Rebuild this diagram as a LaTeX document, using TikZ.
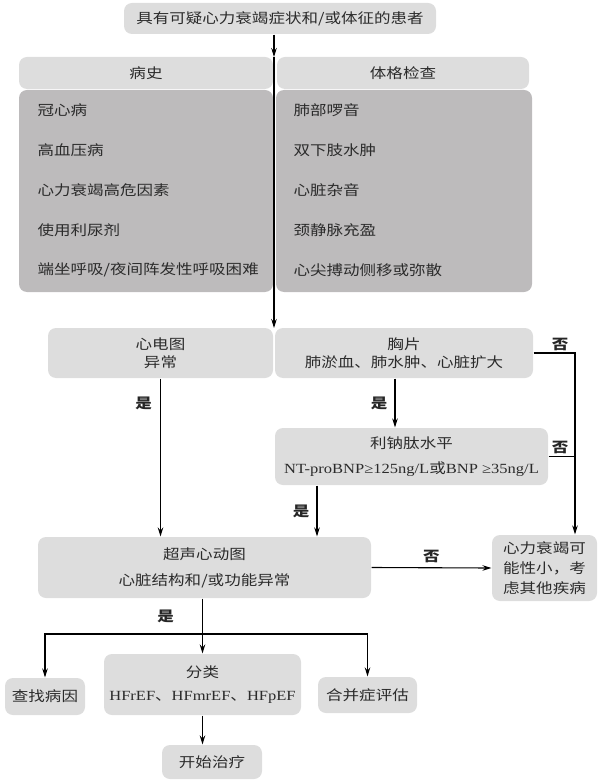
\documentclass[tikz,border=0pt]{standalone}
\usepackage{fontspec}
\setmainfont{Noto Sans CJK SC}[FakeStretch=1.18]
\newfontfamily\latfont{Liberation Serif}[FakeStretch=1.18]
\newcommand{\lat}[1]{{\latfont #1}}
\usetikzlibrary{arrows.meta}
\definecolor{boxlight}{HTML}{DDDDDD}
\definecolor{boxdark}{HTML}{BDBBBC}
\definecolor{textgray}{HTML}{2B2B2B}

\begin{document}
\begin{tikzpicture}[x=1pt, y=-1pt, line width=1.1pt,
    >={Stealth[length=9pt,width=5.5pt]},
    every node/.style={font=\fontsize{14pt}{18pt}\selectfont, text=textgray},
    lightbox/.style={rounded corners=8pt, fill=boxlight, align=center, inner sep=0pt},
    darkbox/.style={rounded corners=8pt, fill=boxdark, inner sep=0pt},
    item/.style={anchor=west, inner sep=0pt},
    lab/.style={font=\fontsize{14pt}{18pt}\selectfont\bfseries, text=black!85, inner sep=2pt}]
    \useasboundingbox (0,0) rectangle (601,783);

    % Patient and history / examination
    \node[lightbox, minimum width=312pt, minimum height=31pt] (patient) at (280,18.5) {具有可疑心力衰竭症状和/或体征的患者};
    \node[lightbox, minimum width=254pt, minimum height=32pt] (history) at (146,73) {病史};
    \node[lightbox, minimum width=252pt, minimum height=32pt] (exam) at (403,73) {体格检查};
    \node[darkbox, minimum width=254pt, minimum height=202pt] (historybox) at (146,191) {};
    \node[darkbox, minimum width=256pt, minimum height=202pt] (exambox) at (404,191) {};
    \foreach \t [count=\i] in {冠心病, 高血压病, 心力衰竭高危因素, 使用利尿剂, 端坐呼吸/夜间阵发性呼吸困难} {
        \node[item] (hist\i) at (37,{70+40*\i}) {\t};
    }
    \foreach \t [count=\i] in {肺部啰音, 双下肢水肿, 心脏杂音, 颈静脉充盈, 心尖搏动侧移或弥散} {
        \node[item] (sign\i) at (293,{70+40*\i}) {\t};
    }

    % Tests
    \node[lightbox, minimum width=225pt, minimum height=50pt] (ecg) at (160.5,353) {心电图\\异常};
    \node[lightbox, minimum width=258pt, minimum height=50pt] (xray) at (404,353) {胸片\\肺淤血、肺水肿、心脏扩大};
    \node[lightbox, minimum width=273pt, minimum height=57pt] (bnp) at (411.5,456.5) {利钠肽水平\\[7pt]\lat{NT-proBNP≥125ng/L}或\lat{BNP ≥35ng/L}};
    \node[lightbox, minimum width=333pt, minimum height=61pt] (echo) at (204.5,567.5) {超声心动图\\[8pt]心脏结构和/或功能异常};
    \node[lightbox, minimum width=105pt, minimum height=66pt] (unlikely) at (544.5,568) {心力衰竭可\\[2pt]能性小，考\\[2pt]虑其他疾病};

    % Outcomes
    \node[lightbox, minimum width=80pt, minimum height=37pt] (cause) at (45,696.5) {查找病因};
    \node[lightbox, minimum width=197pt, minimum height=61pt] (type) at (202.5,684.5) {分类\\[5pt]\lat{HFrEF}、\lat{HFmrEF}、\lat{HFpEF}};
    \node[lightbox, minimum width=99pt, minimum height=36pt] (comorb) at (367.5,695) {合并症评估};
    \node[lightbox, minimum width=100pt, minimum height=34pt] (treat) at (212,762) {开始治疗};

    % Connectors
    \coordinate (split) at (274,57);
    \coordinate (join) at (274,328);
    \draw[->] (patient.south -| split) -- (split);
    \draw[->] (split) -- (join);
    \draw[->] (ecg.south) -- (ecg.south |- echo.north) node[lab, left, pos=0.16, xshift=-6pt] {是};
    \draw[->] (xray.south -| 395,0) -- (bnp.north -| 395,0) node[lab, midway, left, xshift=-5pt] {是};
    \draw[->] (bnp.south -| 317,0) -- (echo.north -| 317,0) node[lab, midway, left, xshift=-5pt] {是};
    \draw[->] (xray.east) -- (xray.east -| 575,0) node[lab, above left, xshift=-4pt] {否} -- (unlikely.north -| 575,0);
    \draw (bnp.east) -- (bnp.east -| 575,0) node[lab, above left, xshift=-4pt] {否};
    \draw[->] (echo.east) -- (unlikely.west) node[lab, midway, above, yshift=2pt] {否};

    \coordinate (fork) at (202.5,634);
    \draw (echo.south -| fork) -- (fork) node[lab, midway, left, xshift=-26pt] {是};
    \draw[->] (fork) -- (type.north);
    \draw[->] (fork) -| (cause.north);
    \draw[->] (fork) -| (comorb.north);
    \draw[->] (type.south) -- (type.south |- treat.north);
\end{tikzpicture}
\end{document}
